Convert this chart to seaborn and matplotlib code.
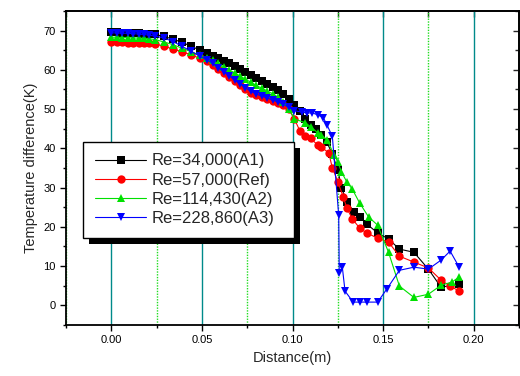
import numpy as np
import pandas as pd
import matplotlib
matplotlib.use("Agg")
import matplotlib.pyplot as plt
import seaborn as sns
from matplotlib.ticker import MultipleLocator
from matplotlib.patches import Rectangle

# --- DADOS ---
x_dense = [0.000, 0.003, 0.006, 0.009, 0.012, 0.015, 0.018, 0.021, 0.024, 0.029,
           0.034, 0.039, 0.044, 0.049, 0.053, 0.056, 0.059, 0.062, 0.065, 0.068,
           0.071, 0.074, 0.077, 0.080, 0.083, 0.086, 0.089, 0.092, 0.095, 0.098, 0.101]

y_a1_dense = [69.5, 69.5, 69.4, 69.4, 69.3, 69.3, 69.2, 69.1, 69.0, 68.5,
              67.8, 67.0, 66.0, 65.0, 64.3, 63.6, 63.0, 62.3, 61.6, 61.0,
              60.3, 59.5, 58.7, 58.0, 57.2, 56.4, 55.6, 54.8, 53.7, 52.5, 51.0]
x_a1_tail = [0.104, 0.107, 0.110, 0.113, 0.116, 0.119, 0.122, 0.125, 0.127, 0.130,
             0.134, 0.137, 0.141, 0.147, 0.153, 0.159, 0.167, 0.175, 0.182, 0.192]
y_a1_tail = [49.5, 47.5, 46.0, 44.8, 43.4, 41.5, 38.5, 34.5, 30.0, 26.3,
             23.8, 22.5, 20.7, 18.4, 16.9, 14.3, 13.5, 9.2, 4.6, 5.4]

y_ref_dense = [67.0, 67.0, 67.0, 66.9, 66.9, 66.8, 66.8, 66.7, 66.6, 66.0,
               65.3, 64.6, 63.8, 62.9, 62.2, 61.3, 60.2, 59.2, 58.2, 57.1,
               56.1, 55.1, 54.2, 53.5, 53.0, 52.5, 52.0, 51.5, 50.9, 49.9, 47.5]
x_ref_tail = [0.104, 0.107, 0.110, 0.114, 0.116, 0.120, 0.122, 0.125, 0.128, 0.130,
              0.133, 0.137, 0.141, 0.147, 0.153, 0.159, 0.167, 0.175, 0.182, 0.187, 0.192]
y_ref_tail = [44.5, 43.2, 42.5, 40.8, 40.3, 38.8, 35.0, 31.5, 27.6, 24.8,
              22.0, 19.7, 18.4, 17.1, 16.1, 12.5, 11.0, 9.5, 6.4, 4.9, 3.6]

y_a2_dense = [68.3, 68.3, 68.2, 68.2, 68.1, 68.1, 68.0, 67.9, 67.7, 67.1,
              66.4, 65.5, 64.6, 63.7, 63.1, 62.4, 61.6, 60.8, 60.0, 59.2,
              58.4, 57.6, 56.8, 56.0, 55.3, 54.6, 53.9, 53.0, 51.9, 50.0, 47.5]
x_a2_tail = [0.107, 0.110, 0.114, 0.116, 0.119, 0.123, 0.125, 0.127, 0.130, 0.133,
             0.137, 0.142, 0.147, 0.153, 0.159, 0.167, 0.175, 0.182, 0.188, 0.192]
y_a2_tail = [46.5, 45.5, 43.9, 43.4, 42.2, 38.3, 36.5, 34.0, 31.4, 29.6,
             26.1, 22.5, 20.4, 13.5, 4.9, 2.0, 2.8, 5.1, 5.9, 7.2]

y_a3_dense = [69.4, 69.4, 69.3, 69.3, 69.2, 69.1, 69.0, 68.8, 68.6, 68.1,
              67.2, 66.0, 64.7, 63.4, 62.5, 61.6, 60.5, 59.5, 58.5, 57.4,
              56.4, 55.4, 54.5, 53.8, 53.3, 52.8, 52.3, 51.8, 51.2, 50.4, 49.6]
x_a3_tail = [0.105, 0.108, 0.111, 0.114, 0.117, 0.119, 0.122, 0.1255, 0.1258, 0.1275,
             0.129, 0.1335, 0.137, 0.141, 0.147, 0.152, 0.159, 0.167, 0.175, 0.182, 0.187, 0.192]
y_a3_tail = [49.2, 49.0, 49.0, 48.5, 47.8, 46.0, 43.0, 23.0, 8.2, 9.7,
             3.6, 0.8, 0.8, 0.8, 0.8, 4.1, 8.9, 9.7, 9.2, 11.5, 13.8, 9.7]

labels = ["Re=34,000(A1)", "Re=57,000(Ref)", "Re=114,430(A2)", "Re=228,860(A3)"]
cores = ["#000000", "#ff0000", "#00e000", "#0000ff"]
marcadores = ["s", "o", "^", "v"]

# --- MONTAR TABELA ---
series = [
    (x_dense + x_a1_tail, y_a1_dense + y_a1_tail),
    (x_dense + x_ref_tail, y_ref_dense + y_ref_tail),
    (x_dense + x_a2_tail, y_a2_dense + y_a2_tail),
    (x_dense + x_a3_tail, y_a3_dense + y_a3_tail),
]
frames = []
for lab, (xs, ys) in zip(labels, series):
    frames.append(pd.DataFrame({"x": xs, "y": ys, "serie": lab}))
df = pd.concat(frames, ignore_index=True)

# --- FIGURA ---
sns.set_style("ticks")
plt.rcParams['font.family'] = ['Liberation Sans', 'DejaVu Sans']

fig = plt.figure(figsize=(5.2, 3.76), dpi=100)
ax = fig.add_axes([0.127, 0.136, 0.871, 0.835])

sns.lineplot(data=df, x="x", y="y", hue="serie", style="serie",
             hue_order=labels, style_order=labels,
             palette=cores, markers=marcadores, dashes=False,
             sort=False, estimator=None, units="serie",
             linewidth=0.8, markersize=6, markeredgewidth=0, ax=ax)

ax.set_xlim(-0.025, 0.225)
ax.set_ylim(-5, 75)
ax.xaxis.set_major_locator(MultipleLocator(0.05))
ax.xaxis.set_minor_locator(MultipleLocator(0.025))
ax.yaxis.set_major_locator(MultipleLocator(10))
ax.yaxis.set_minor_locator(MultipleLocator(5))
ax.xaxis.set_major_formatter(matplotlib.ticker.FormatStrFormatter("%.2f"))

ax.grid(which="major", axis="x", color="#008a8a", linewidth=1.0, linestyle="-")
ax.grid(which="minor", axis="x", color="#22dd22", linewidth=1.0, linestyle=(0, (1, 1)))
ax.set_axisbelow(True)

ax.tick_params(which="both", direction="out", labelsize=8, colors="black")
ax.tick_params(which="major", length=4, width=1)
ax.tick_params(which="minor", length=2.5, width=1)

topo = ax.secondary_xaxis("top")
topo.xaxis.set_major_locator(MultipleLocator(0.025))
topo.tick_params(direction="in", length=4, width=1, labeltop=False)
direita = ax.secondary_yaxis("right")
direita.yaxis.set_major_locator(MultipleLocator(10))
direita.yaxis.set_minor_locator(MultipleLocator(5))
direita.tick_params(which="both", direction="in", labelright=False, width=1)
direita.tick_params(which="major", length=4)
direita.tick_params(which="minor", length=3)

for s in ax.spines.values():
    s.set_linewidth(1.3)
    s.set_color("black")
for a in (topo, direita):
    for s in a.spines.values():
        s.set_linewidth(1.3)

ax.set_xlabel("Distance(m)", fontsize=10.5)
ax.set_ylabel("Temperature difference(K)", fontsize=10.5)

handles, labs = ax.get_legend_handles_labels()
leg = ax.legend(handles, labs, loc="upper left",
                bbox_to_anchor=(0.0375, 0.277, 0.4655, 0.306), mode="expand",
                fontsize=12, frameon=True, fancybox=False, edgecolor="black",
                framealpha=1, handlelength=3.1, handletextpad=0.3,
                labelspacing=0.25, borderpad=0.7, borderaxespad=0)
leg.get_frame().set_linewidth(1.0)
leg.set_zorder(6)

# sombra preta do quadro da legenda
fig.canvas.draw()
bb = leg.get_window_extent().transformed(ax.transAxes.inverted())
dx, dy = 6 / 453, 6 / 314
ax.add_patch(Rectangle((bb.x0 + dx, bb.y0 - dy), bb.width, bb.height,
                       transform=ax.transAxes, facecolor="black", edgecolor="none",
                       zorder=5.5, clip_on=False))

fig.savefig("out.png", dpi=100)
